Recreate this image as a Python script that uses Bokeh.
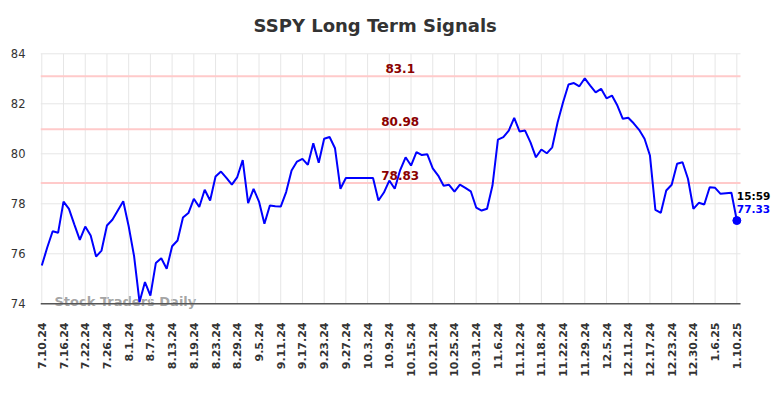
from bokeh.plotting import figure
from bokeh.models import Label, FixedTicker, Range1d
from bokeh.embed import file_html
from bokeh.resources import INLINE
import math

title_text = "SSPY Long Term Signals"
watermark_text = "Stock Traders Daily"
last_time = "15:59"

prices = [
    75.53, 76.25, 76.90, 76.84, 78.09, 77.80, 77.17, 76.56, 77.09, 76.73,
    75.89, 76.13, 77.13, 77.36, 77.73, 78.10, 77.10, 75.90, 74.07, 74.87,
    74.33, 75.63, 75.82, 75.40, 76.30, 76.53, 77.45, 77.63, 78.20, 77.87,
    78.56, 78.13, 79.09, 79.29, 79.04, 78.77, 79.07, 79.75, 78.03, 78.60,
    78.09, 77.20, 77.93, 77.90, 77.89, 78.47, 79.33, 79.69, 79.80, 79.56,
    80.42, 79.64, 80.60, 80.67, 80.22, 78.60, 79.03, 79.03, 79.03, 79.03,
    79.03, 79.03, 78.13, 78.45, 78.93, 78.60, 79.35, 79.86, 79.53, 80.07,
    79.95, 79.98, 79.42, 79.13, 78.72, 78.76, 78.49, 78.77, 78.64, 78.50,
    77.85, 77.73, 77.80, 78.73, 80.57, 80.67, 80.93, 81.44, 80.89, 80.93,
    80.46, 79.86, 80.17, 80.02, 80.26, 81.26, 82.06, 82.77, 82.83, 82.70,
    83.02, 82.73, 82.46, 82.60, 82.22, 82.33, 81.93, 81.40, 81.44, 81.22,
    80.96, 80.60, 79.93, 77.76, 77.64, 78.53, 78.76, 79.60, 79.66, 79.00,
    77.80, 78.04, 77.97, 78.66, 78.64, 78.40, 78.42, 78.44, 77.33,
]

tick_labels = [
    "7.10.24", "7.16.24", "7.22.24", "7.26.24", "8.1.24", "8.7.24", "8.13.24",
    "8.19.24", "8.23.24", "8.29.24", "9.5.24", "9.11.24", "9.17.24", "9.23.24",
    "9.27.24", "10.3.24", "10.9.24", "10.15.24", "10.21.24", "10.25.24",
    "10.31.24", "11.6.24", "11.12.24", "11.18.24", "11.22.24", "11.29.24",
    "12.5.24", "12.11.24", "12.17.24", "12.23.24", "12.30.24", "1.6.25", "1.10.25",
]
tick_every = 4

levels = [83.1, 80.98, 78.83]
level_labels = ["83.1", "80.98", "78.83"]

y_ticks = [74, 76, 78, 80, 82, 84]

xs = list(range(len(prices)))
n = len(prices)
tick_pos = [i * tick_every for i in range(len(tick_labels) - 1)] + [n - 1]

FONT = "DejaVu Sans"

# ---- layout (pixels) ----
W, H = 780, 396
FRAME_L, FRAME_B = 40, 311          # frame spans canvas top and right edge
PX_X = 5.43                          # px per trading day
PX_Y = 25.0                          # px per price unit
X0_PX, Y84_PX = 41.3, 53.3           # screen position of first day / top tick
AREA_R_PX = 740                      # right edge of the plotting area

y_lo, y_hi = min(y_ticks), max(y_ticks)
x_start = -(X0_PX - FRAME_L) / PX_X
x_end = x_start + (W - FRAME_L) / PX_X
area_right = (AREA_R_PX - X0_PX) / PX_X
yr_top = y_hi + Y84_PX / PX_Y
yr_bot = y_hi - (FRAME_B - Y84_PX) / PX_Y

p = figure(
    width=W, height=H, output_backend="svg", toolbar_location=None,
    x_range=Range1d(x_start, x_end), y_range=Range1d(yr_bot, yr_top),
    min_border_left=FRAME_L, min_border_right=0, min_border_top=0,
    min_border_bottom=H - FRAME_B,
    background_fill_color="white", border_fill_color="white",
)
p.outline_line_color = None
p.grid.visible = False

# custom grid limited to the plotting area
p.segment(x0=[x_start] * len(y_ticks), y0=y_ticks, x1=[area_right] * len(y_ticks), y1=y_ticks,
          line_color="#e6e6e6", line_width=1)
p.segment(x0=tick_pos, y0=[y_lo] * len(tick_pos), x1=tick_pos, y1=[y_hi] * len(tick_pos),
          line_color="#e6e6e6", line_width=1)

# x axis
p.xaxis.ticker = FixedTicker(ticks=tick_pos)
p.xaxis.major_label_overrides = {t: lab for t, lab in zip(tick_pos, tick_labels)}
p.xaxis.major_label_orientation = math.pi / 2
p.xaxis.major_label_text_font = FONT
p.xaxis.major_label_text_font_style = "bold"
p.xaxis.major_label_text_font_size = "11px"
p.xaxis.major_label_text_color = "#333333"
p.xaxis.major_tick_line_color = None
p.xaxis.minor_tick_line_color = None
p.xaxis.major_tick_out = 0
p.xaxis.major_tick_in = 0
p.xaxis.major_label_standoff = 11
p.xaxis.axis_line_color = None

# watermark (under the axis line)
p.add_layout(Label(x=2.34, y=y_lo, y_offset=2.1, text=watermark_text, text_align="left",
                   text_baseline="middle", text_color="#999999", text_alpha=0.9,
                   text_font=FONT, text_font_style="bold", text_font_size="13px",
                   level="underlay"))

# axis base line
p.segment(x0=[x_start], y0=[y_lo], x1=[area_right], y1=[y_lo], line_color="#555555", line_width=1.5)

# y axis
p.yaxis.ticker = FixedTicker(ticks=y_ticks)
p.yaxis.major_label_text_font = FONT
p.yaxis.major_label_text_font_size = "11.5px"
p.yaxis.major_label_text_color = "#333333"
p.yaxis.major_tick_line_color = None
p.yaxis.minor_tick_line_color = None
p.yaxis.major_tick_out = 0
p.yaxis.major_tick_in = 0
p.yaxis.major_label_standoff = 15
p.yaxis.axis_line_color = None

# level lines
p.segment(x0=[x_start] * len(levels), y0=levels, x1=[area_right] * len(levels), y1=levels,
          line_color="#ffcaca", line_width=2)
for lv, lab in zip(levels, level_labels):
    p.add_layout(Label(x=66, y=lv, text=lab, text_align="center", text_baseline="middle",
                       y_offset=7.8, text_color="#8b0000", text_font=FONT,
                       text_font_style="bold", text_font_size="12px"))

# price line
p.line(xs, prices, line_color="#0000ff", line_width=2)
p.scatter([xs[-1]], [prices[-1]], size=8, color="#0000ff")

# end labels
p.add_layout(Label(x=xs[-1], y=prices[-1], text=last_time, text_align="left",
                   text_baseline="middle", y_offset=25, text_color="#000000",
                   text_font=FONT, text_font_style="bold", text_font_size="10.5px"))
p.add_layout(Label(x=xs[-1], y=prices[-1], text=f"{prices[-1]:.2f}", text_align="left",
                   text_baseline="middle", y_offset=11.5, text_color="#0000ff",
                   text_font=FONT, text_font_style="bold", text_font_size="10.5px"))

# title
p.add_layout(Label(x=61.4, y=y_hi, y_offset=27.9, text=title_text, text_align="center",
                   text_baseline="middle", text_color="#333333", text_font=FONT,
                   text_font_style="bold", text_font_size="18px"))

open("out.html", "w").write(file_html(p, INLINE))
